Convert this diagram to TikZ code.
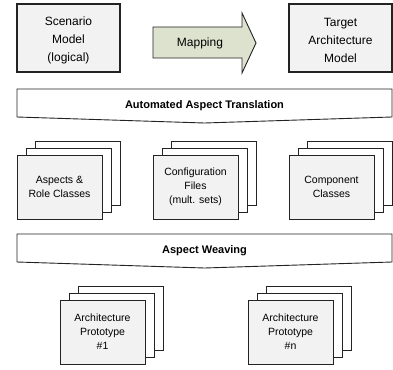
\documentclass[tikz,border=0pt]{standalone}
\usepackage{fontspec}
\setmainfont{Liberation Sans}
\usepackage{tikz}
\definecolor{boxfill}{RGB}{242,242,242}
\definecolor{mapfill}{RGB}{221,226,206}
\definecolor{edge}{RGB}{35,35,35}
\newcommand{\drawthick}{\draw[line width=1.7pt, draw=edge]}
\newcommand{\drawthin}{\draw[line width=0.9pt, draw=edge]}
% three stacked sheets: name, left x and top y of the front sheet, text
\newcommand{\sheetstack}[4]{
    \foreach \k/\c in {2/white,1/white,0/boxfill}{
      \drawthin[fill=\c] (#2+9*\k, #3-7*\k) rectangle ++(85,64);
    }
    \node[sheettext] (#1) at (#2+42.5, #3+32) {#4};
}
% banner across the picture: name, top y, text
\newcommand{\banner}[3]{
    \drawthin[fill=white] (17,#2)--(392,#2)--(392,#2+28)--(204.5,#2+34)--(17,#2+28)--cycle;
    \node[bannertext] (#1) at (204.5,#2+17) {#3};
}
\tikzset{
  toptext/.style={font=\fontsize{12}{18}\selectfont, align=center},
  sheettext/.style={font=\fontsize{10.5}{14}\selectfont, align=center},
  bannertext/.style={font=\fontsize{11}{13}\selectfont\bfseries}
}

\begin{document}
\begin{tikzpicture}[x=1pt,y=-1pt]
\useasboundingbox (0,0) rectangle (393,369);
% top row
\drawthick[fill=boxfill] (17,4) rectangle (120,72);
\node[toptext] (scenario) at (68.5,40) {Scenario\\Model\\(logical)};
\drawthin[fill=mapfill] (153,27)--(242,27)--(242,13)--(256,43)--(242,73)--(242,58)--(153,58)--cycle;
\node[toptext] (mapping) at (200,43) {Mapping};
\drawthick[fill=boxfill] (289,4) rectangle (392,72);
\node[toptext] (target) at (340.5,40) {Target\\Architecture\\Model};
% translation
\banner{translation}{89}{Automated Aspect Translation}
\sheetstack{aspects}{17}{155}{Aspects \&\\Role Classes}
\sheetstack{config}{153}{155}{Configuration\\Files\\(mult. sets)}
\sheetstack{component}{289}{155}{Component\\Classes}
% weaving
\banner{weaving}{234}{Aspect Weaving}
\sheetstack{protoone}{60}{300}{Architecture\\Prototype\\\#1}
\sheetstack{proton}{248}{300}{Architecture\\Prototype\\\#n}
\end{tikzpicture}
\end{document}
